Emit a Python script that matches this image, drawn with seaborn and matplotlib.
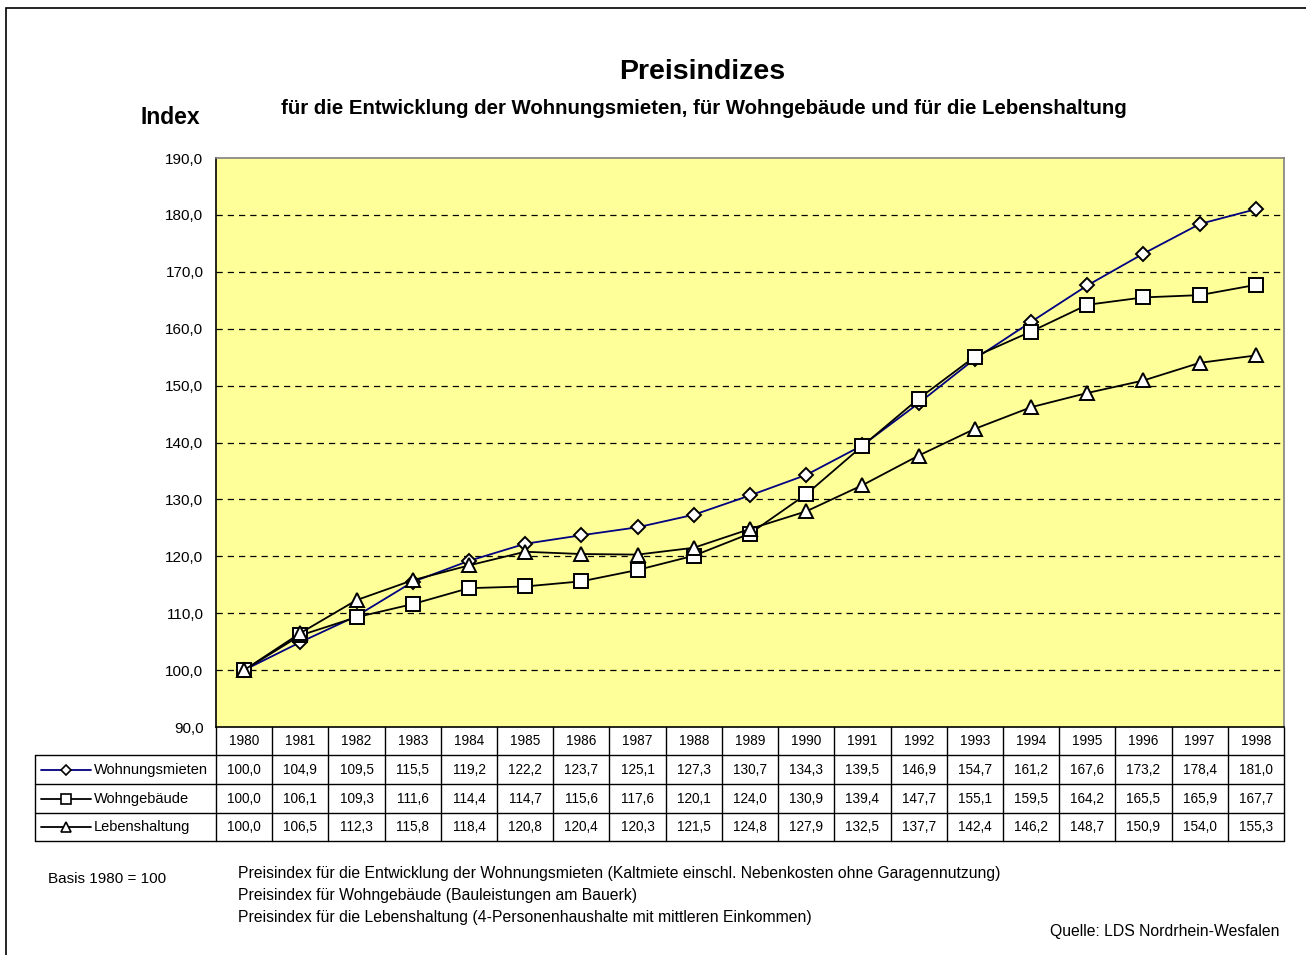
import numpy as np
import pandas as pd
import seaborn as sns
import matplotlib.pyplot as plt
from matplotlib.patches import Rectangle
from matplotlib.lines import Line2D
import matplotlib.transforms as mtransforms

years = [str(y) for y in range(1980, 1999)]
wohnungsmieten = [100.0, 104.9, 109.5, 115.5, 119.2, 122.2, 123.7, 125.1, 127.3, 130.7,
                  134.3, 139.5, 146.9, 154.7, 161.2, 167.6, 173.2, 178.4, 181.0]
wohngebaeude = [100.0, 106.1, 109.3, 111.6, 114.4, 114.7, 115.6, 117.6, 120.1, 124.0,
                130.9, 139.4, 147.7, 155.1, 159.5, 164.2, 165.5, 165.9, 167.7]
lebenshaltung = [100.0, 106.5, 112.3, 115.8, 118.4, 120.8, 120.4, 120.3, 121.5, 124.8,
                 127.9, 132.5, 137.7, 142.4, 146.2, 148.7, 150.9, 154.0, 155.3]
series_names = ['Wohnungsmieten', 'Wohngebäude', 'Lebenshaltung']
series_values = [wohnungsmieten, wohngebaeude, lebenshaltung]
notes = ['Preisindex für die Entwicklung der Wohnungsmieten (Kaltmiete einschl. Nebenkosten ohne Garagennutzung)',
         'Preisindex für Wohngebäude (Bauleistungen am Bauerk)',
         'Preisindex für die Lebenshaltung (4-Personenhaushalte mit mittleren Einkommen)']

styles = {'Wohnungsmieten': dict(color='#000080', marker='D', ms=7.5),
          'Wohngebäude': dict(color='black', marker='s', ms=10),
          'Lebenshaltung': dict(color='black', marker='^', ms=10)}

sns.set_style('white')
plt.rcParams['font.family'] = ['Liberation Sans', 'DejaVu Sans']
plt.rcParams['text.color'] = 'black'
plt.rcParams['ytick.labelcolor'] = 'black'

W, H = 1306, 955
fig = plt.figure(figsize=(W / 100, H / 100), dpi=100)
ax = fig.add_axes([216 / W, 1 - 727 / H, (1284 - 216) / W, (727 - 158) / H])
ax.set_facecolor('#FFFF99')

x = np.arange(len(years))
for name, vals in zip(series_names, series_values):
    st = styles[name]
    df = pd.DataFrame({'x': x, 'v': vals})
    sns.lineplot(data=df, x='x', y='v', ax=ax, color=st['color'], lw=1.3,
                 marker=st['marker'], markersize=st['ms'], markerfacecolor='white',
                 markeredgecolor='black', markeredgewidth=1.4, zorder=3)

ax.set_xlim(-0.5, len(years) - 0.5)
ax.set_ylim(90, 190)
ax.set_yticks(np.arange(90, 191, 10))
ax.set_yticklabels([f'{t:.1f}'.replace('.', ',') for t in np.arange(90, 191, 10)], fontsize=11)
ax.tick_params(axis='y', direction='out', length=5, width=1, color='black', pad=4)
ax.set_xticks([])
ax.set_xlabel('')
ax.set_ylabel('')
for t in np.arange(100, 190, 10):
    ax.axhline(t, color='black', ls=(0, (5, 4)), lw=0.9, zorder=1)
ax.spines['left'].set_color('black')
ax.spines['bottom'].set_color('black')
ax.spines['top'].set_color('#808080')
ax.spines['right'].set_color('#808080')
for s in ax.spines.values():
    s.set_linewidth(1.2)

# data table below the plot
ph = 727 - 158
trans = mtransforms.blended_transform_factory(ax.transData, ax.transAxes)
rows_px = [727, 755, 784, 813, 841]
rows = [-(r - 727) / ph for r in rows_px]
xl = -0.5 - (216 - 35) / ((1284 - 216) / len(years))
xr = len(years) - 0.5
kw = dict(transform=trans, clip_on=False, color='black', lw=1)
for r in rows[1:]:
    ax.plot([xl, xr], [r, r], **kw)
for b in np.arange(-0.5, len(years), 1.0):
    ax.plot([b, b], [rows[0], rows[-1]], **kw)
ax.plot([xl, xl], [rows[1], rows[-1]], **kw)
for i, y in enumerate(years):
    ax.text(i, (rows[0] + rows[1]) / 2, y, transform=trans, ha='center', va='center', fontsize=9.8)
for k, (name, vals) in enumerate(zip(series_names, series_values)):
    yc = (rows[k + 1] + rows[k + 2]) / 2
    for i, v in enumerate(vals):
        ax.text(i, yc, f'{v:.1f}'.replace('.', ','), transform=trans, ha='center', va='center', fontsize=9.8)
    st = styles[name]
    ax.add_line(Line2D([xl + 0.1, xl + 1.0], [yc, yc], transform=trans, clip_on=False,
                       color=st['color'], lw=1.3))
    ax.add_line(Line2D([xl + 0.55], [yc], transform=trans, clip_on=False, marker=st['marker'],
                       markersize=st['ms'] * 0.7, markerfacecolor='white', markeredgecolor='black',
                       markeredgewidth=1.2, ls='none'))
    ax.text(xl + 1.05, yc, name, transform=trans, ha='left', va='center', fontsize=10.5)

# titles and notes
fig.text(702 / W, 1 - 72 / H, 'Preisindizes', ha='center', va='center', fontsize=20.5, fontweight='bold')
fig.text(704 / W, 1 - 108 / H, 'für die Entwicklung der Wohnungsmieten, für Wohngebäude und für die Lebenshaltung',
         ha='center', va='center', fontsize=14.7, fontweight='bold')
fig.text(140 / W, 1 - 118 / H, 'Index', ha='left', va='center', fontsize=16.5, fontweight='bold')
fig.text(48 / W, 1 - 879 / H, 'Basis 1980 = 100', ha='left', va='center', fontsize=11)
for j, n in enumerate(notes):
    fig.text(238 / W, 1 - (873 + 22 * j) / H, n, ha='left', va='center', fontsize=11.3)
fig.text(1279 / W, 1 - 931 / H, 'Quelle: LDS Nordrhein-Wesfalen', ha='right', va='center', fontsize=11.3)

fig.patches.append(Rectangle((6 / W, -0.1), 1.2, 1 - 8 / H + 0.1, transform=fig.transFigure,
                             fill=False, edgecolor='black', lw=1.2))

fig.savefig('out.png', dpi=100)
